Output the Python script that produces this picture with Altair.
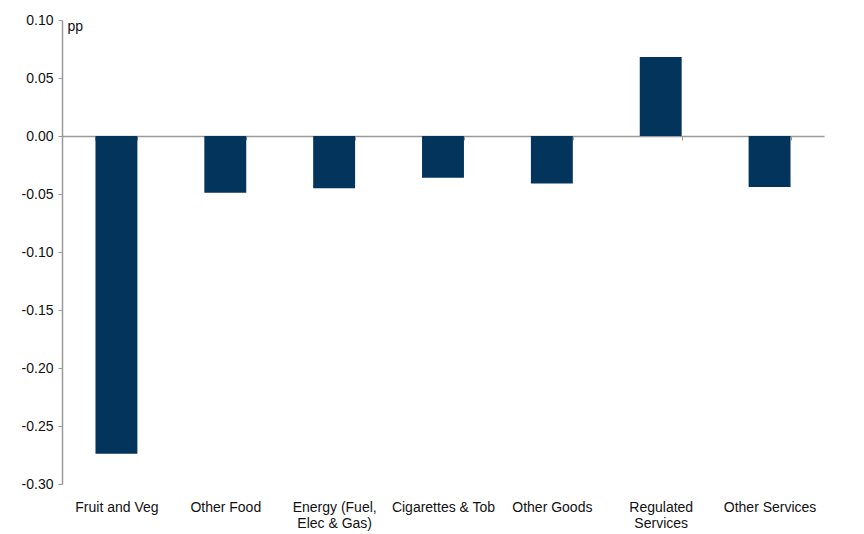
import altair as alt
import pandas as pd

categories = ["Fruit and Veg", "Other Food", "Energy (Fuel, Elec & Gas)", "Cigarettes & Tob",
              "Other Goods", "Regulated Services", "Other Services"]
values = [-0.274, -0.049, -0.045, -0.036, -0.041, 0.068, -0.044]
y_ticks = [0.10, 0.05, 0.00, -0.05, -0.10, -0.15, -0.20, -0.25, -0.30]

df = pd.DataFrame({"cat": categories, "val": values})

W, H = 762, 464
ymin, ymax = -0.30, 0.10
zero_offset = H * (0 - ymin) / (ymax - ymin)  # distance from bottom to zero line, px

label_expr = ("datum.label == 'Energy (Fuel, Elec & Gas)' ? ['Energy (Fuel,', 'Elec & Gas)'] : "
              "datum.label == 'Regulated Services' ? ['Regulated', 'Services'] : datum.label")

chart = alt.Chart(df).mark_bar(color="#02345c").encode(
    x=alt.X("cat:N", sort=categories, title=None,
            scale=alt.Scale(paddingInner=0.615, paddingOuter=0.3075),
            axis=alt.Axis(orient="bottom", offset=-zero_offset, domainColor="#9a9a9a", domainWidth=1.5,
                          tickColor="#9a9a9a", tickSize=4, tickWidth=1, tickBand="extent",
                          labelPadding=zero_offset + 12, labelAngle=0, labelFont="Liberation Sans",
                          labelFontSize=14, labelColor="#111", labelLineHeight=16, labelLimit=300,
                          labelExpr=label_expr)),
    y=alt.Y("val:Q", scale=alt.Scale(domain=[ymin, ymax], nice=False, zero=False),
            axis=alt.Axis(values=y_ticks, title="pp", titleAngle=0, titleAlign="left",
                          titleBaseline="middle", titleX=5, titleY=6, titleFont="Liberation Sans",
                          titleFontSize=14, titleFontWeight="normal", titleColor="#111",
                          labelExpr="(datum.value < -0.0001 ? '-' : '') + format(abs(datum.value), '.2f')",
                          labelFont="Liberation Sans", labelFontSize=14, labelColor="#111",
                          labelPadding=5, tickSize=4, tickColor="#9a9a9a", domainColor="#9a9a9a",
                          domainWidth=1.5, grid=False)),
).properties(
    width=W, height=H,
    autosize=alt.AutoSizeParams(type="none"),
    padding={"left": 54, "top": 12, "right": 30, "bottom": 50},
).configure_view(stroke=None)

chart.save("out.html", embed_options={"renderer": "svg", "actions": False})
